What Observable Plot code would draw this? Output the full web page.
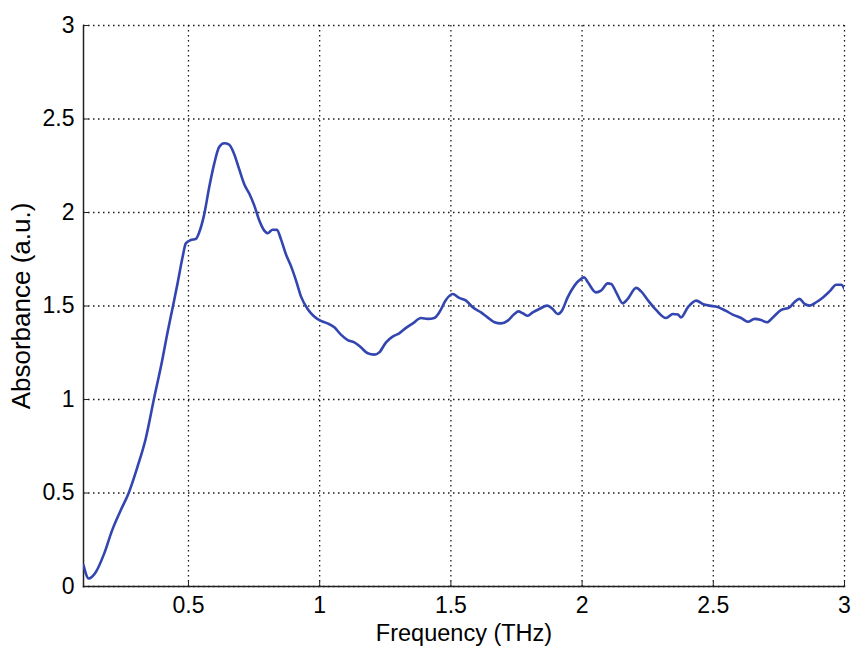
<!DOCTYPE html>
<html>
<head>
<meta charset="utf-8">
<script src="https://cdn.jsdelivr.net/npm/d3@7"></script>
<script src="https://cdn.jsdelivr.net/npm/@observablehq/plot@0.6"></script>
<style>
  html, body { margin: 0; padding: 0; background: #fff; }
  #chart svg { display: block; }
</style>
</head>
<body>
<div id="chart"></div>
<script>
const frequency = [
  0.100, 0.120, 0.146, 0.178, 0.209, 0.241, 0.273, 0.305, 0.337, 0.368,
  0.400, 0.419, 0.441, 0.459, 0.478, 0.490, 0.509, 0.528,
  0.541, 0.560, 0.579, 0.598, 0.617, 0.636, 0.655, 0.674, 0.693, 0.713,
  0.732, 0.751, 0.770, 0.789, 0.802, 0.821, 0.837, 0.852, 0.871, 0.890,
  0.910, 0.929, 0.954, 0.979, 1.005, 1.030, 1.056, 1.081, 1.107, 1.132,
  1.157, 1.183, 1.208, 1.227, 1.253, 1.278, 1.303, 1.329, 1.355, 1.386,
  1.412, 1.437, 1.456, 1.481, 1.507, 1.532, 1.558, 1.583, 1.615, 1.640,
  1.666, 1.691, 1.717, 1.742, 1.757, 1.774, 1.793, 1.812, 1.837, 1.867,
  1.888, 1.907, 1.923, 1.945, 1.971, 1.996, 2.008, 2.022, 2.053, 2.072,
  2.098, 2.111, 2.130, 2.155, 2.174, 2.206, 2.225, 2.250, 2.282, 2.320,
  2.346, 2.365, 2.377, 2.403, 2.435, 2.460, 2.485, 2.516, 2.547, 2.574,
  2.606, 2.632, 2.657, 2.682, 2.705, 2.727, 2.759, 2.790, 2.809, 2.828,
  2.848, 2.867, 2.892, 2.918, 2.943, 2.969, 2.988, 3.000
];
const absorbance = [
  0.115, 0.043, 0.075, 0.173, 0.300, 0.405, 0.503, 0.637, 0.790, 1.000,
  1.210, 1.350, 1.500, 1.625, 1.765, 1.835, 1.853, 1.859,
  1.894, 1.990, 2.135, 2.260, 2.350, 2.370, 2.363, 2.313, 2.233, 2.150,
  2.100, 2.037, 1.957, 1.903, 1.889, 1.908, 1.907, 1.859, 1.778, 1.716,
  1.636, 1.550, 1.484, 1.444, 1.420, 1.407, 1.386, 1.347, 1.318, 1.306,
  1.279, 1.247, 1.240, 1.252, 1.306, 1.336, 1.354, 1.383, 1.407, 1.436,
  1.431, 1.436, 1.466, 1.532, 1.564, 1.543, 1.529, 1.493, 1.466, 1.439,
  1.413, 1.407, 1.422, 1.457, 1.471, 1.461, 1.448, 1.466, 1.484, 1.502,
  1.484, 1.457, 1.475, 1.546, 1.609, 1.645, 1.653, 1.627, 1.573, 1.582,
  1.621, 1.618, 1.573, 1.514, 1.538, 1.597, 1.578, 1.532, 1.479, 1.436,
  1.457, 1.454, 1.439, 1.493, 1.529, 1.511, 1.502, 1.495, 1.475, 1.454,
  1.436, 1.416, 1.431, 1.425, 1.413, 1.439, 1.479, 1.493, 1.520, 1.538,
  1.511, 1.502, 1.520, 1.546, 1.578, 1.614, 1.614, 1.590
];
const xTicks = [0.5, 1, 1.5, 2, 2.5, 3];
const yTicks = [0, 0.5, 1, 1.5, 2, 2.5, 3];
const xLabel = "Frequency (THz)";
const yLabel = "Absorbance (a.u.)";

const data = frequency.map((f, i) => ({f, a: absorbance[i]}));

const chart = Plot.plot({
  width: 852,
  height: 646,
  marginLeft: 83,
  marginRight: 8,
  marginTop: 25,
  marginBottom: 60,
  style: {fontFamily: "'Liberation Sans', Arial, Helvetica, sans-serif", fontSize: "23px", color: "#000", background: "#fff"},
  x: {domain: [0.1, 3]},
  y: {domain: [0, 3]},
  marks: [
    Plot.gridX(xTicks, {stroke: "#000", strokeOpacity: 0.9, strokeDasharray: "1.5,3.5", strokeWidth: 1.3}),
    Plot.gridY(yTicks, {stroke: "#000", strokeOpacity: 0.9, strokeDasharray: "1.5,3.5", strokeWidth: 1.3}),
    Plot.axisX(xTicks, {tickSize: -5, tickPadding: 15, tickFormat: d => String(d), label: null, stroke: "#222"}),
    Plot.axisX({label: xLabel, ticks: [], tickSize: 0, labelAnchor: "center", labelOffset: 54, labelArrow: "none", fontSize: 23.5}),
    Plot.axisY(yTicks, {tickSize: -5, tickPadding: 14, tickFormat: d => String(d), label: null, stroke: "#222"}),
    Plot.axisY({label: yLabel, ticks: [], tickSize: 0, labelAnchor: "center", labelOffset: 72, labelArrow: "none", fontSize: 26}),
    Plot.frame({anchor: "left", stroke: "#222", strokeWidth: 1.5}),
    Plot.frame({anchor: "bottom", stroke: "#222", strokeWidth: 1.5}),
    Plot.line(data, {x: "f", y: "a", stroke: "#3346b0", strokeWidth: 2.6, curve: "monotone-x", clip: true})
  ]
});
document.getElementById("chart").append(chart);
</script>
</body>
</html>
